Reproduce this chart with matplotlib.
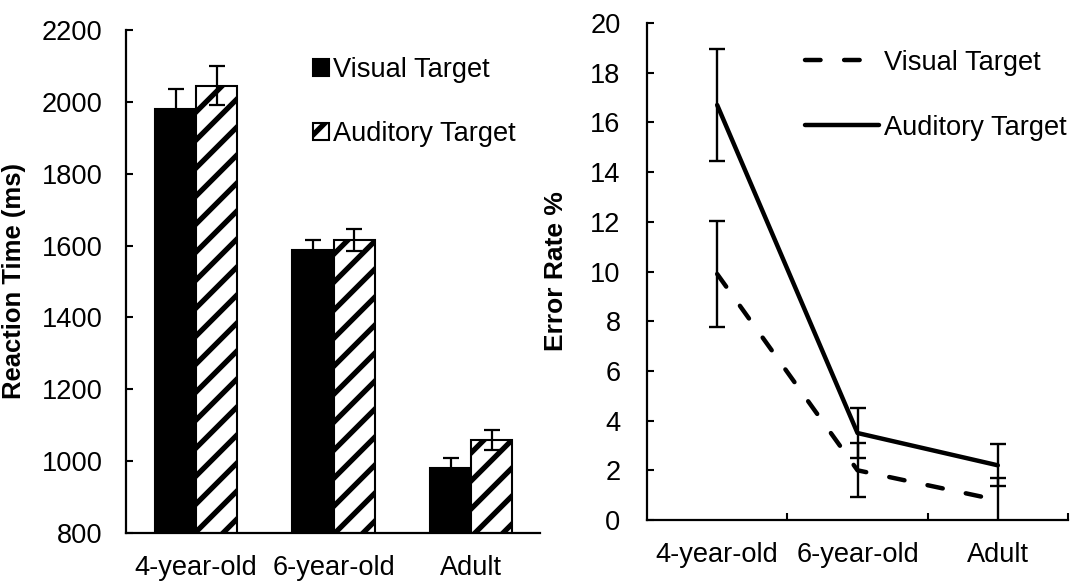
import matplotlib
matplotlib.use("Agg")
import matplotlib.pyplot as plt
import numpy as np

DPI = 84
k = 100 / DPI  # keep point sizes equal in pixels to a 100-dpi layout


def P(v):
    return v * k


plt.rcParams['font.family'] = ['Liberation Sans', 'DejaVu Sans']
plt.rcParams['hatch.linewidth'] = P(3.8)

groups = ["4-year-old", "6-year-old", "Adult"]
series_names = ["Visual Target", "Auditory Target"]

rt_visual = [1980, 1587, 980]
rt_visual_err = [57, 28, 28]
rt_auditory = [2045, 1615, 1060]
rt_auditory_err = [55, 30, 28]

er_visual = [9.9, 2.0, 0.8]
er_visual_err = [2.15, 1.08, 0.9]
er_auditory = [16.7, 3.5, 2.2]
er_auditory_err = [2.25, 1.0, 0.85]

rt_ticks = [800, 1000, 1200, 1400, 1600, 1800, 2000, 2200]
er_ticks = [0, 2, 4, 6, 8, 10, 12, 14, 16, 18, 20]

W, H = 1089, 581
fig = plt.figure(figsize=(W / DPI, H / DPI), dpi=DPI)

FS = P(19.6)
LFS = P(18.5)

# ---------- Left: reaction time bars ----------
ax1 = fig.add_axes([126 / W, (H - 533) / H, 414 / W, 503 / H])
x = np.arange(len(groups))
bw = 0.3
b1 = ax1.bar(x - bw / 2, rt_visual, bw, color='black', edgecolor='black',
             linewidth=P(1.5), label=series_names[0], zorder=2)
b2 = ax1.bar(x + bw / 2, rt_auditory, bw, color='white', edgecolor='black',
             hatch='/', linewidth=P(1.5), label=series_names[1], zorder=2)
ax1.errorbar(x - bw / 2, rt_visual, yerr=rt_visual_err, fmt='none',
             ecolor='black', elinewidth=P(1.6), capsize=P(6), capthick=P(1.6), zorder=3)
ax1.errorbar(x + bw / 2, rt_auditory, yerr=rt_auditory_err, fmt='none',
             ecolor='black', elinewidth=P(1.6), capsize=P(6), capthick=P(1.6), zorder=3)
ax1.set_xlim(-0.51, 2.5)
ax1.set_ylim(800, 2200)
ax1.set_yticks(rt_ticks)
ax1.set_xticks(x)
ax1.set_xticklabels(groups)
ax1.tick_params(axis='y', direction='in', length=P(5), width=P(1.5), labelsize=FS, pad=P(17))
ax1.tick_params(axis='x', length=0, labelsize=FS, pad=P(16))
for s in ['top', 'right']:
    ax1.spines[s].set_visible(False)
for s in ['left', 'bottom']:
    ax1.spines[s].set_linewidth(P(1.6))
ax1.set_ylabel("Reaction Time (ms)", fontsize=LFS, fontweight='bold')
ax1.yaxis.set_label_coords(26 / W, 1 - 281 / H, transform=fig.transFigure)
ax1.legend(handles=[b1, b2], loc='upper left',
           bbox_to_anchor=(313 / W, 1 - 57 / H), bbox_transform=fig.transFigure,
           frameon=False, fontsize=FS, handlelength=0.6, handleheight=0.6,
           handletextpad=0.12, labelspacing=1.4, borderpad=0, borderaxespad=0)

# ---------- Right: error rate lines ----------
ax2 = fig.add_axes([647 / W, (H - 520) / H, 421 / W, 497 / H])
ax2.errorbar(x, er_visual, yerr=er_visual_err, fmt='none', ecolor='black',
             elinewidth=P(1.7), capsize=P(5.5), capthick=P(1.7), zorder=2)
ax2.errorbar(x, er_auditory, yerr=er_auditory_err, fmt='none', ecolor='black',
             elinewidth=P(1.7), capsize=P(5.5), capthick=P(1.7), zorder=2)
l1, = ax2.plot(x, er_visual, color='black', lw=P(3.2), dashes=(3.5, 5.3),
               dash_capstyle='round', label=series_names[0], zorder=3)
l2, = ax2.plot(x, er_auditory, color='black', lw=P(3.2), solid_capstyle='round',
               label=series_names[1], zorder=3)
ax2.set_xlim(-0.5, 2.5)
ax2.set_ylim(0, 20)
ax2.set_yticks(er_ticks)
ax2.set_xticks(x)
ax2.set_xticklabels(groups)
ax2.set_xticks([0.5, 1.5, 2.5], minor=True)
ax2.tick_params(axis='y', direction='in', length=P(5), width=P(1.5), labelsize=FS, pad=P(19))
ax2.tick_params(axis='x', which='major', length=0, labelsize=FS, pad=P(16))
ax2.tick_params(axis='x', which='minor', direction='in', length=P(5), width=P(1.5))
for s in ['top', 'right']:
    ax2.spines[s].set_visible(False)
for s in ['left', 'bottom']:
    ax2.spines[s].set_linewidth(P(1.6))
ax2.set_ylabel("Error Rate %", fontsize=P(19), fontweight='bold')
ax2.yaxis.set_label_coords(568 / W, 1 - 271 / H, transform=fig.transFigure)
ax2.legend(handles=[l1, l2], loc='upper left',
           bbox_to_anchor=(805 / W, 1 - 50 / H), bbox_transform=fig.transFigure,
           frameon=False, fontsize=FS, handlelength=2.7,
           handletextpad=0.2, labelspacing=1.42, borderpad=0, borderaxespad=0)

fig.savefig("out.png", dpi=DPI)
